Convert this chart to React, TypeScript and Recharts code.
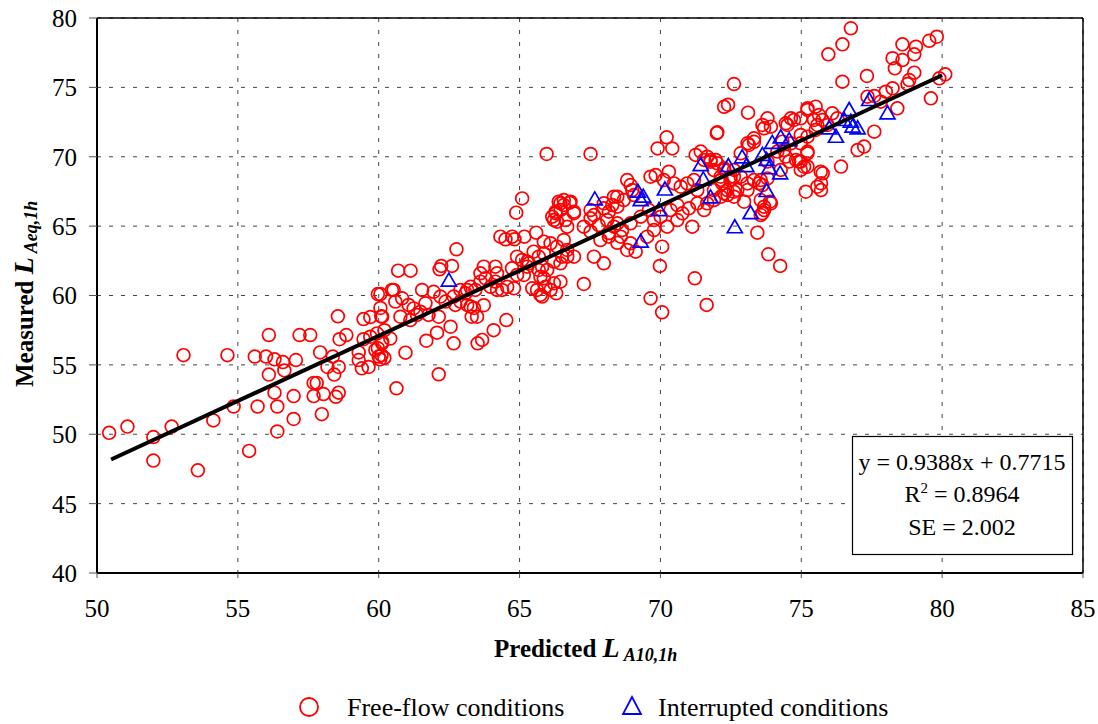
import React from "react";
import {
  ScatterChart,
  Scatter,
  XAxis,
  YAxis,
  CartesianGrid,
  ReferenceLine,
} from "recharts";

// Predicted L_A10,1h (x) vs measured L_Aeq,1h (y)
const freeFlowLow: number[][] = [
  [50.43, 50.1], [51.08, 50.55], [52.0, 49.8], [52.0, 48.1], [52.65, 50.55], [53.58, 47.4],
  [54.13, 51.0], [54.85, 52.0], [55.4, 48.8], [53.07, 55.7], [54.63, 55.7], [55.7, 52.0],
  [56.4, 52.0], [56.4, 50.2], [56.3, 53.0], [56.1, 54.3], [56.1, 57.15], [55.6, 55.6],
  [56.0, 55.6], [56.3, 55.4], [56.6, 55.2], [56.65, 54.6], [57.06, 55.35], [56.98, 52.75],
  [56.98, 51.1], [57.19, 57.15], [57.57, 57.15], [57.92, 55.9], [57.69, 53.7], [57.8, 53.7],
  [57.69, 52.75], [58.04, 52.9], [57.98, 51.45], [58.18, 54.85], [58.37, 55.6], [58.42, 54.3],
  [58.58, 54.85], [58.48, 52.7], [58.58, 53.0], [58.55, 58.5], [58.61, 56.85], [58.85, 57.15],
  [59.29, 55.9], [59.29, 55.35], [59.4, 54.75], [59.64, 54.85], [59.46, 56.85], [59.46, 58.3],
  [59.7, 58.45], [59.97, 60.1], [60.06, 60.1], [60.06, 59.1], [60.09, 58.5], [59.97, 56.2],
  [60.0, 55.6], [60.1, 55.7], [60.2, 55.5], [60.05, 55.4], [60.2, 57.5], [60.47, 60.4],
  [59.7, 57.03], [59.94, 57.27], [60.12, 56.67], [59.88, 56.07], [62.13, 54.32], [60.63, 53.31],
];

const freeFlowMid: number[][] = [
  [65.09, 67.0], [64.88, 65.97], [64.32, 64.24], [64.5, 64.05], [64.74, 64.24], [64.82, 64.05],
  [65.17, 64.24], [65.59, 64.53], [62.76, 63.33], [62.22, 62.13], [62.6, 62.13], [62.16, 61.89],
  [60.69, 61.79], [61.13, 61.79], [60.53, 60.4], [60.83, 59.8], [61.54, 60.4], [61.95, 60.27],
  [61.24, 59.07], [61.66, 59.44], [61.48, 58.83], [61.77, 58.6], [62.13, 58.47], [60.77, 58.47],
  [61.12, 58.23], [60.12, 58.47], [62.55, 57.75], [62.07, 57.32], [61.69, 56.74], [62.66, 56.55],
  [60.95, 55.88], [60.12, 56.55], [60.41, 56.9], [64.08, 57.5], [64.53, 58.23], [63.51, 56.55],
  [63.67, 56.8], [63.26, 59.2], [63.38, 59.1], [63.73, 59.3], [63.49, 58.47], [63.3, 58.47],
  [63.14, 60.4], [63.26, 60.63], [63.43, 60.4], [63.61, 61.0], [63.79, 61.24], [63.97, 60.63],
  [64.14, 61.0], [64.2, 60.4], [64.38, 60.4], [64.56, 60.63], [63.73, 62.08], [63.61, 61.6],
  [64.2, 61.6], [64.14, 62.08], [64.73, 61.96], [64.8, 60.52], [64.91, 61.48], [65.15, 61.48],
  [65.27, 62.08], [65.33, 62.32], [65.45, 60.52], [65.62, 60.4], [65.74, 60.04], [65.92, 60.63],
  [66.1, 60.4], [66.3, 60.16], [66.45, 61.0], [65.86, 61.24], [65.68, 61.84], [65.8, 62.08],
  [64.91, 62.8], [65.09, 62.56], [65.27, 62.44], [65.5, 63.16], [65.68, 62.8], [65.86, 63.04],
  [65.86, 63.88], [66.1, 63.76], [66.33, 63.52], [66.57, 64.0], [66.69, 62.8], [66.51, 62.8],
  [66.22, 62.44], [66.28, 65.93], [66.45, 66.64], [66.57, 66.88], [66.33, 65.32], [66.16, 65.68],
  [62.19, 59.92], [62.37, 59.56], [62.66, 59.92], [62.9, 60.4], [63.08, 60.16], [62.9, 59.56],
  [63.14, 59.32], [62.72, 59.32], [60.59, 59.56], [61.06, 59.32], [61.36, 58.6],
];

const freeFlowBand: number[][] = [
  [65.96, 70.2], [67.52, 70.2], [70.22, 71.4], [69.9, 70.6], [70.42, 70.6], [72.0, 71.7],
  [66.39, 66.76], [66.57, 66.52], [66.81, 66.76], [66.28, 66.04], [66.45, 66.16], [66.93, 66.04],
  [66.22, 65.44], [66.63, 65.44], [67.99, 66.28], [68.29, 66.52], [68.47, 67.12], [68.7, 66.88],
  [68.82, 68.32], [68.94, 67.96], [69.06, 67.24], [69.65, 68.56], [69.83, 68.68], [70.12, 68.32],
  [70.3, 68.92], [70.48, 68.08], [70.72, 67.84], [70.95, 68.08], [71.19, 68.32], [71.66, 70.0],
  [71.78, 69.64], [71.9, 69.04], [71.31, 67.6], [71.9, 67.6], [72.19, 68.08], [72.37, 67.6],
  [72.61, 67.12], [72.15, 67.12], [67.28, 64.96], [67.52, 65.56], [67.81, 65.08], [68.11, 65.44],
  [68.35, 64.96], [68.64, 64.72], [68.94, 65.2], [69.3, 65.68], [69.59, 66.16], [69.77, 65.44],
  [70.01, 65.68], [70.36, 66.16], [70.6, 66.52], [70.78, 65.92], [71.01, 66.28], [71.31, 66.64],
  [71.55, 66.16], [70.6, 65.44], [71.13, 64.96], [70.24, 64.96], [69.77, 64.72], [69.53, 64.24],
  [68.94, 63.76], [68.59, 64.24], [68.82, 63.28], [69.12, 63.16], [68.17, 64.24], [67.87, 64.0],
  [67.64, 62.8], [67.99, 62.32], [67.28, 60.83], [66.93, 62.8], [66.69, 63.28], [66.45, 62.32],
  [66.22, 60.88], [65.98, 61.84], [65.74, 61.36], [65.8, 59.92], [70.06, 63.52], [69.98, 62.13],
  [71.22, 61.24], [69.65, 59.8], [71.64, 59.32], [70.06, 58.79], [73.83, 62.97], [74.25, 62.13],
  [73.44, 64.53], [66.78, 66.69], [66.93, 65.93], [66.69, 64.96], [67.52, 66.16], [67.99, 66.64],
  [68.35, 67.12], [68.47, 66.4], [69.0, 67.6], [71.25, 70.13], [71.43, 70.37], [67.64, 65.8],
  [68.17, 66.04], [68.47, 65.2], [67.52, 64.6], [68.17, 64.5], [68.47, 63.8],
];

const freeFlowHigh: number[][] = [
  [72.26, 73.6], [72.4, 73.75], [73.11, 73.18], [72.02, 71.76], [73.8, 72.77], [73.62, 72.29],
  [73.92, 72.17], [74.51, 72.29], [74.74, 72.65], [75.22, 73.37], [75.45, 72.65], [75.57, 72.29],
  [74.98, 71.57], [73.09, 70.97], [73.32, 71.08], [75.22, 70.37], [74.98, 69.64], [75.22, 69.28],
  [75.69, 68.92], [75.16, 67.48], [75.57, 67.84], [72.02, 69.53], [72.26, 69.17], [72.61, 69.05],
  [72.85, 68.56], [73.09, 68.08], [73.32, 68.32], [73.56, 68.32], [73.8, 68.44], [72.49, 68.32],
  [72.73, 67.6], [73.09, 67.6], [73.56, 66.88], [73.68, 66.4], [73.68, 66.16], [73.89, 66.76],
  [73.56, 65.8], [76.76, 79.26], [76.46, 78.1], [75.96, 77.38], [78.59, 78.1], [79.07, 77.93],
  [79.54, 78.36], [79.81, 78.65], [78.24, 77.1], [78.59, 76.97], [79.01, 77.38], [78.32, 76.37],
  [79.01, 76.06], [80.11, 75.94], [79.9, 75.65], [79.6, 74.21], [77.33, 75.82], [76.46, 75.41],
  [78.83, 75.53], [78.77, 75.24], [78.24, 74.93], [78.0, 74.69], [77.59, 74.38], [77.35, 74.33],
  [77.82, 73.97], [78.41, 73.49], [77.59, 71.81], [77.23, 70.73], [77.0, 70.49], [76.41, 69.29],
  [75.76, 68.81], [75.7, 68.09], [75.7, 67.6], [74.98, 69.05], [74.92, 69.65], [75.22, 70.25],
  [74.57, 69.65], [74.27, 69.05], [72.61, 75.24], [73.68, 72.05], [74.45, 72.41], [74.63, 72.77],
  [74.98, 72.77], [75.22, 73.49], [75.51, 73.61], [75.63, 73.01], [75.75, 72.65], [75.93, 72.29],
  [76.1, 73.13], [76.28, 72.77], [75.51, 71.93], [75.22, 71.45], [74.98, 70.97], [74.63, 70.97],
  [74.33, 71.09], [74.15, 70.37], [74.45, 70.01], [74.81, 69.77], [74.39, 70.49], [73.32, 71.33],
  [73.14, 70.85], [72.85, 70.25], [73.8, 69.65], [73.5, 68.09], [71.78, 69.77], [72.14, 68.56],
  [72.61, 68.56], [72.61, 67.48], [72.38, 67.24], [72.97, 66.76], [71.55, 69.77], [71.96, 69.77],
  [72.26, 69.05], [72.49, 68.56], [72.14, 68.32], [72.26, 67.36], [71.9, 66.88], [71.66, 66.64],
  [73.62, 67.96], [73.92, 66.64], [73.62, 65.93], [75.1, 69.28],
];

const interruptedPoints: number[][] = [
  [62.49, 61.07], [67.67, 66.93], [69.2, 67.48], [69.39, 67.12], [69.3, 66.88], [70.16, 67.64],
  [69.95, 66.16], [69.3, 63.88], [71.43, 69.4], [71.52, 68.37], [71.78, 67.07], [72.41, 69.33],
  [72.9, 69.96], [73.05, 69.33], [72.64, 64.92], [73.2, 65.93], [73.62, 70.13], [73.77, 69.77],
  [73.86, 69.17], [73.77, 67.53], [74.25, 68.8], [73.97, 71.0], [74.27, 71.4], [74.57, 71.2],
  [75.99, 72.05], [76.23, 71.44], [76.52, 72.65], [76.7, 73.37], [76.82, 72.17], [77.0, 72.05],
  [76.76, 72.53], [77.41, 74.09], [78.06, 73.13],
];

// Trend line y = 0.9388x + 0.7715 (end points)
const trendPoints: number[][] = [
  [50.5, 48.18],
  [80.0, 75.87],
];

const xTicks = [50, 55, 60, 65, 70, 75, 80, 85];
const yTicks = [40, 45, 50, 55, 60, 65, 70, 75, 80];

const toObj = (arr: number[][]) => arr.map(([x, y]) => ({ x, y }));
const freeFlowData = toObj([...freeFlowLow, ...freeFlowMid, ...freeFlowBand, ...freeFlowHigh]);
const interruptedData = toObj(interruptedPoints);
const trendData = toObj(trendPoints);

const FONT = "'Liberation Serif', 'Times New Roman', serif";

const CircleShape = (p: any) => (
  <circle cx={p.cx} cy={p.cy} r={6.4} fill="none" stroke="#ff0000" strokeWidth={1.7} />
);

const TriangleShape = (p: any) => {
  const { cx, cy } = p;
  return (
    <polygon
      points={`${cx},${cy - 7.5} ${cx - 7.5},${cy + 5.5} ${cx + 7.5},${cy + 5.5}`}
      fill="none"
      stroke="#0000ff"
      strokeWidth={1.7}
    />
  );
};

const NoShape = () => <g />;

export default function App() {
  const tickStyle = { fontSize: 25, fill: "#000", fontFamily: FONT };
  return (
    <div style={{ width: 1090, height: 720, padding: "4px 0 0 8px", fontFamily: FONT }}>
      <style>{`html, body { margin: 0; padding: 0; overflow: hidden; }`}</style>
      <div style={{ position: "relative", width: 1090, height: 720 }}>
        <ScatterChart
          width={1090}
          height={664}
          margin={{ top: 14, right: 15, bottom: 15, left: 0 }}
        >
          <CartesianGrid stroke="#444" strokeDasharray="4 8" strokeWidth={1} />
          <XAxis
            type="number"
            dataKey="x"
            domain={[50, 85]}
            ticks={xTicks}
            interval={0}
            allowDataOverflow
            height={80}
            tick={tickStyle}
            tickSize={5}
            tickMargin={21}
            axisLine={{ stroke: "#000", strokeWidth: 2 }}
            tickLine={{ stroke: "#555" }}
          />
          <YAxis
            type="number"
            dataKey="y"
            domain={[40, 80]}
            ticks={yTicks}
            interval={0}
            allowDataOverflow
            width={89}
            tick={tickStyle}
            tickSize={8}
            tickMargin={12}
            axisLine={{ stroke: "#000", strokeWidth: 2 }}
            tickLine={{ stroke: "#555" }}
          />
          <ReferenceLine y={80} stroke="#000" strokeWidth={1.5} />
          <ReferenceLine x={85} stroke="#000" strokeWidth={1.5} />
          <Scatter
            name="Free-flow conditions"
            data={freeFlowData}
            shape={CircleShape}
            isAnimationActive={false}
          />
          <Scatter
            name="Interrupted conditions"
            data={interruptedData}
            shape={TriangleShape}
            isAnimationActive={false}
          />
          <Scatter
            name="Trend"
            data={trendData}
            shape={NoShape}
            line={{ stroke: "#000", strokeWidth: 4 }}
            lineType="joint"
            isAnimationActive={false}
          />
        </ScatterChart>
        <svg
          width={1090}
          height={720}
          style={{ position: "absolute", left: 0, top: 0, pointerEvents: "none" }}
        >
          <g transform="translate(0 4)">
            {/* equation box */}
            <rect x={844.5} y={428.5} width={220} height={118} fill="#fff" stroke="#000" strokeWidth={1.2} />
            <text x={954} y={462} textAnchor="middle" fontSize={24} fontFamily={FONT} fill="#000">
              y = 0.9388x + 0.7715
            </text>
            <text x={954} y={494} textAnchor="middle" fontSize={24} fontFamily={FONT} fill="#000">
              R<tspan dy={-9} fontSize={15}>2</tspan>
              <tspan dy={9}> = 0.8964</tspan>
            </text>
            <text x={954} y={527} textAnchor="middle" fontSize={24} fontFamily={FONT} fill="#000">
              SE = 2.002
            </text>
            {/* x axis title */}
            <text x={486} y={649} fontFamily={FONT} fill="#000" fontWeight="bold">
              <tspan fontSize={25}>Predicted </tspan>
              <tspan fontSize={28} fontStyle="italic">L</tspan>
              <tspan fontSize={18} fontStyle="italic" dx={4} dy={4}>A10,1h</tspan>
            </text>
            {/* y axis title */}
            <g transform="translate(25 379) rotate(-90)">
              <text x={0} y={0} fontFamily={FONT} fill="#000" fontWeight="bold">
                <tspan fontSize={25}>Measured </tspan>
                <tspan fontSize={28} fontStyle="italic">L</tspan>
                <tspan fontSize={18} fontStyle="italic" dx={4} dy={4}>Aeq,1h</tspan>
              </text>
            </g>
            {/* legend */}
            <circle cx={301} cy={699} r={9} fill="none" stroke="#ff0000" strokeWidth={1.8} />
            <text x={339} y={708} fontSize={26} fontFamily={FONT} fill="#000">
              Free-flow conditions
            </text>
            <polygon points="624,689 615,706 633,706" fill="none" stroke="#0000ff" strokeWidth={1.8} />
            <text x={650} y={708} fontSize={26} fontFamily={FONT} fill="#000">
              Interrupted conditions
            </text>
          </g>
        </svg>
      </div>
    </div>
  );
}
